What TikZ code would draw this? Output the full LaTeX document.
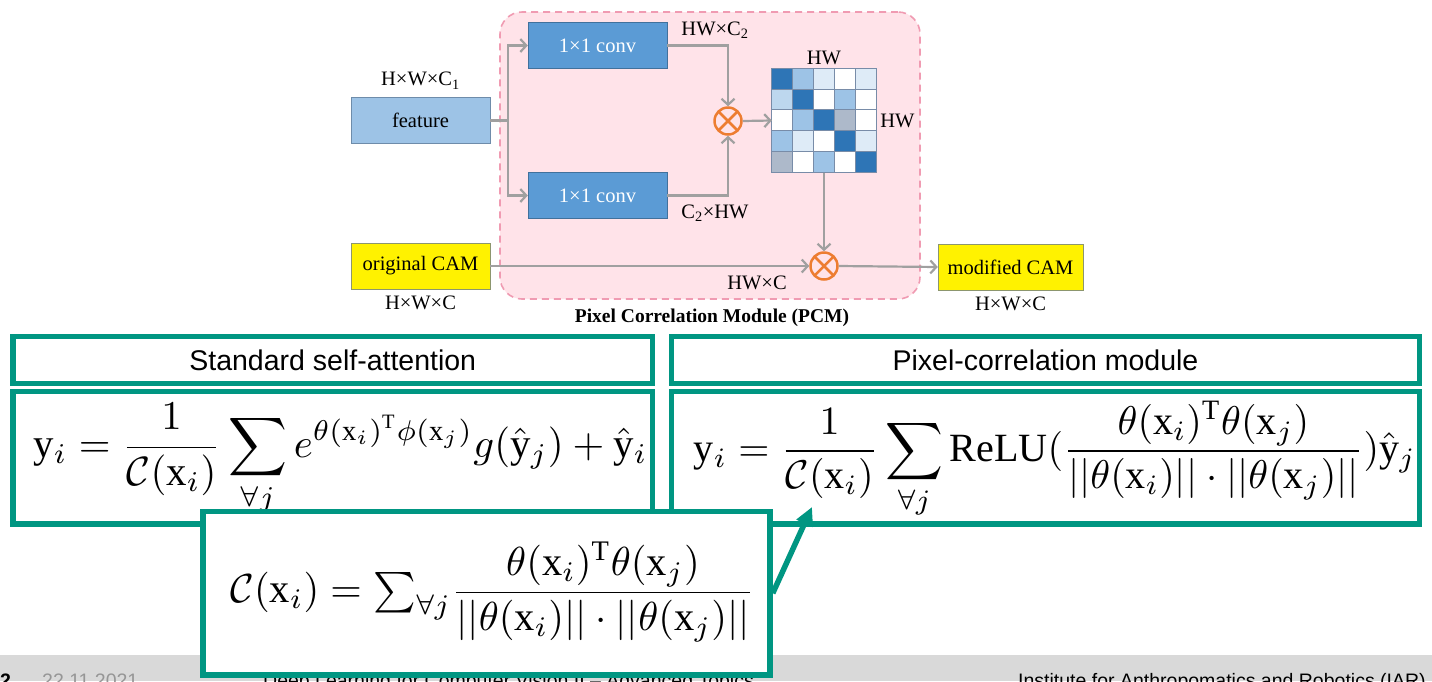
\documentclass[tikz,border=0pt]{standalone}
\usepackage{fontspec}
\usepackage{amsmath,amssymb}
\usepackage{graphicx}
\setmainfont{Liberation Serif}
\setsansfont{Liberation Sans}
\usetikzlibrary{arrows.meta,positioning,calc}

\definecolor{kitgreen}{RGB}{0,150,130}
\definecolor{pcmpink}{RGB}{255,227,233}
\definecolor{pcmdash}{RGB}{240,155,178}
\definecolor{convblue}{RGB}{91,155,213}
\definecolor{convedge}{RGB}{65,113,156}
\definecolor{featblue}{RGB}{157,195,230}
\definecolor{featedge}{RGB}{110,140,170}
\definecolor{camedge}{RGB}{140,150,110}
\definecolor{flowgray}{RGB}{160,160,160}
\definecolor{multorange}{RGB}{237,125,49}
\definecolor{cdark}{RGB}{46,117,182}
\definecolor{cmid}{RGB}{157,195,230}
\definecolor{clight}{RGB}{222,235,247}
\definecolor{clm}{RGB}{189,215,238}
\definecolor{cgray}{RGB}{173,185,202}
\definecolor{gridedge}{RGB}{120,140,168}
\definecolor{footgray}{RGB}{217,217,217}
\definecolor{datagray}{RGB}{150,150,150}

\newcommand{\xrm}{\mathrm{x}}
\newcommand{\yrm}{\mathrm{y}}

\begin{document}
\begin{tikzpicture}
[x=1pt,y=-1pt,
block/.style={rectangle,minimum width=139pt,minimum height=46pt,inner sep=0pt,
  font=\fontsize{20.5}{24}\selectfont},
conv/.style={block,fill=convblue,draw=convedge,text=white},
feat/.style={block,fill=featblue,draw=featedge},
cam/.style={block,fill=yellow,draw=camedge},
mult/.style={circle,draw=multorange,line width=2.5pt,minimum size=27pt,inner sep=0pt,
  path picture={\draw[multorange,line width=2.5pt]
    (path picture bounding box.north west) -- (path picture bounding box.south east)
    (path picture bounding box.north east) -- (path picture bounding box.south west);}},
flow/.style={draw=flowgray,line width=2.2pt,-{Straight Barb[length=6pt,width=13pt]}},
lbl/.style={font=\fontsize{20.5}{24}\selectfont,inner sep=1pt},
panel/.style={rectangle,draw=kitgreen,line width=5.5pt,fill=white,inner sep=0pt},
head/.style={font=\sffamily\fontsize{28.5}{33}\selectfont},
foot/.style={font=\sffamily\fontsize{19.5}{22}\selectfont,anchor=base west,inner sep=0pt}]

\useasboundingbox (0,0) rectangle (1432,681);
\clip (0,0) rectangle (1432,681);
\fill[white] (0,0) rectangle (1432,681);

% footer band
\fill[footgray] (0,655) rectangle (1432,681);
\node[foot,font=\sffamily\bfseries\fontsize{19.5}{22}\selectfont] (page) at (0,687) {2};
\node[foot,text=datagray] (date) at (42,687) {22.11.2021};
\node[foot] (course) at (263,687) {Deep Learning for Computer Vision II – Advanced Topics};
\node[foot] (inst) at (1018,687) {Institute for Anthropomatics and Robotics (IAR)};

% PCM block
\node[rectangle,rounded corners=22pt,fill=pcmpink,draw=pcmdash,dash pattern=on 7pt off 5pt,
  line width=1.6pt,minimum width=420pt,minimum height=287pt] (pcm) at (710,155.5) {};
\node[lbl,font=\bfseries\fontsize{19.5}{22}\selectfont] (pcmname) at (712,318)
  {Pixel Correlation Module (PCM)};

\node[feat] (feature) at (420.5,120.5) {feature};
\node[conv] (conv1) at (597.5,45.5) {1×1 conv};
\node[conv] (conv2) at (597.5,195.5) {1×1 conv};
\node[cam] (ocam) at (420.5,266) {original CAM};
\node[cam,minimum width=145pt] (mcam) at (1010.5,267) {modified CAM};
\node[mult] (m1) at (728,121) {};
\node[mult] (m2) at (824,266) {};
\node[minimum size=104pt,inner sep=0pt] (mat) at (824,120.5) {};

% correlation matrix
\foreach \c [count=\k from 0] in {cdark,cmid,clight,white,clight,
                                  clm,cdark,white,cmid,white,
                                  white,cmid,cdark,cgray,white,
                                  cmid,clight,white,cdark,clight,
                                  cgray,white,cmid,white,cdark}{
  \pgfmathtruncatemacro\cx{mod(\k,5)}
  \pgfmathtruncatemacro\cy{\k/5}
  \fill[\c] ($(mat.north west)+(\cx*20.8,\cy*20.8)$) rectangle +(20.8,20.8);
}
\foreach \i in {1,...,4}{
  \draw[gridedge,line width=1pt] ($(mat.north west)+(\i*20.8,0)$) -- +(0,104);
  \draw[gridedge,line width=1pt] ($(mat.north west)+(0,\i*20.8)$) -- +(104,0);
}
\draw[gridedge,line width=1.2pt] (mat.north west) rectangle (mat.south east);

% labels
\node[lbl,above=7pt of feature] (lfeat) {H×W×C\textsubscript{1}};
\node[lbl] (lq) at (715,30) {HW×C\textsubscript{2}};
\node[lbl] (lk) at (715,213) {C\textsubscript{2}×HW};
\node[lbl,above=2pt of mat] (lmtop) {HW};
\node[lbl,right=3pt of mat] (lmright) {HW};
\node[lbl] (lhwc) at (757,283) {HW×C};
\node[lbl,below=6pt of ocam] (locam) {H×W×C};
\node[lbl,below=6pt of mcam] (lmcam) {H×W×C};

% flow
\draw[flowgray,line width=2.2pt] (feature.east) -- (508,120.5) coordinate (split);
\draw[flow] (split) |- (conv1.west);
\draw[flow] (split) |- (conv2.west);
\draw[flow] (conv1.east) -| (m1.north);
\draw[flow] (conv2.east) -| (m1.south);
\draw[flow] (m1.east) -- (mat.west);
\draw[flow] (mat.south) -- (m2.north);
\draw[flow] (ocam.east) -- (m2.west);
\draw[flow] (m2.east) -- (mcam.west);

% formula panels
\node[panel,minimum width=639.5pt,minimum height=47pt] (hdA) at (332.75,360) {};
\node[head] (tA) at (hdA) {Standard self-attention};
\node[panel,minimum width=748pt,minimum height=47pt] (hdB) at (1045.5,360) {};
\node[head] (tB) at (hdB) {Pixel-correlation module};
\node[panel,minimum width=639.5pt,minimum height=132.3pt] (eqA) at (332.75,457.85) {};
\node[panel,minimum width=748pt,minimum height=132.3pt] (eqB) at (1045.5,457.85) {};

\node[inner sep=0pt] (fA) at (340.5,460) {\resizebox{614pt}{!}{$\displaystyle
  \yrm_i=\frac{1}{\mathcal{C}(\xrm_i)}\sum_{\forall j}
  e^{\theta(\xrm_i)^{\mathrm{T}}\phi(\xrm_j)}g(\hat{\yrm}_j)+\hat{\yrm}_i$}};
\node[inner sep=0pt] (fB) at (1055,460) {\resizebox{722pt}{!}{$\displaystyle
  \yrm_i=\frac{1}{\mathcal{C}(\xrm_i)}\sum_{\forall j}\mathrm{ReLU}(
  \frac{\theta(\xrm_i)^{\mathrm{T}}\theta(\xrm_j)}{||\theta(\xrm_i)||\cdot||\theta(\xrm_j)||}
  )\hat{\yrm}_j$}};

\node[panel,minimum width=567pt,minimum height=163.5pt] (eqC) at (486.5,593.25) {};
\node[inner sep=0pt] (fC) at (492.5,592) {\resizebox{524pt}{!}{$\displaystyle
  \mathcal{C}(\xrm_i)={\textstyle\sum_{\forall j}}
  \frac{\theta(\xrm_i)^{\mathrm{T}}\theta(\xrm_j)}{||\theta(\xrm_i)||\cdot||\theta(\xrm_j)||}$}};

\coordinate (target) at (812,507);
\draw[kitgreen,line width=5.5pt,-{Triangle[length=18pt,width=17pt]}] (eqC.east) -- (target);
\end{tikzpicture}
\end{document}
